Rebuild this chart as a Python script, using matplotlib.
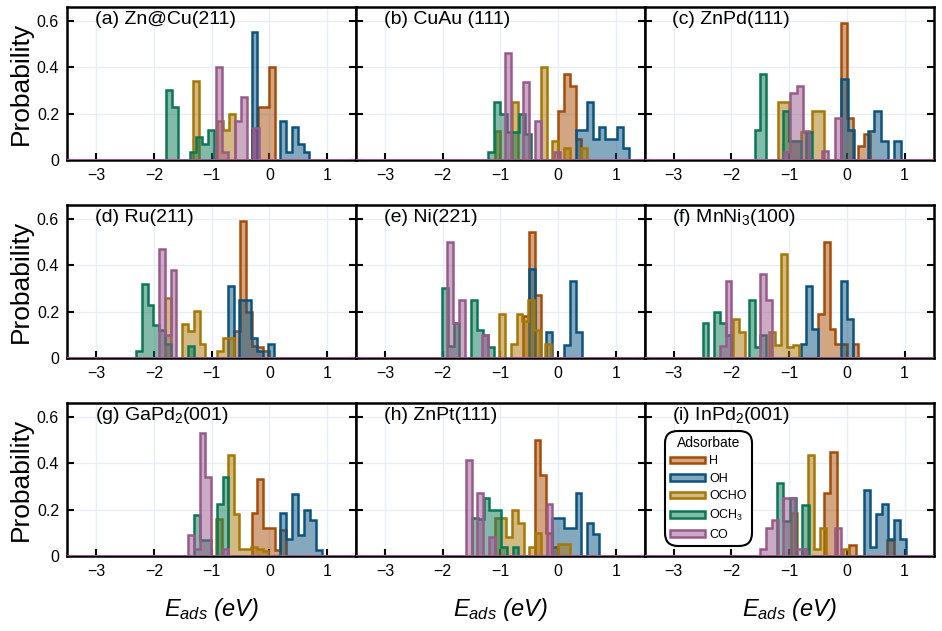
import numpy as np
import matplotlib
matplotlib.use("Agg")
import matplotlib.pyplot as plt
from matplotlib.colors import to_rgba

plt.rcParams['font.family'] = ['Liberation Sans', 'DejaVu Sans']
plt.rcParams['mathtext.fontset'] = 'custom'
plt.rcParams['mathtext.rm'] = 'Liberation Sans'
plt.rcParams['mathtext.it'] = 'Liberation Sans:italic'

adsorbates = ["H", "OH", "OCHO", "OCH$_3$", "CO"]
colors = ["#a64c08", "#0b527f", "#a77706", "#0a7755", "#99598b"]

# each histogram: [first bin edge (eV), bin width (eV), probabilities]
# (a) Zn@Cu(211)
a_H = [-0.30, 0.10, [0.13, 0.23, 0.23, 0.40]]
a_OH = [-0.31, 0.10, [0.55, 0, 0, 0, 0, 0.17, 0.035, 0.14, 0.07, 0.035]]
a_OCHO = [-1.33, 0.105, [0.34, 0, 0, 0, 0.17, 0.13, 0.20]]
a_OCH3 = [-1.80, 0.105, [0.30, 0.23, 0, 0, 0.035, 0.10, 0.07, 0.13]]
a_CO = [-0.92, 0.105, [0.40, 0.036, 0, 0.17, 0.27, 0, 0.136]]
# (b) CuAu (111)
b_H = [0.0, 0.10, [0.21, 0.37, 0.32, 0.09]]
b_OH = [0.30, 0.102, [0.13, 0.13, 0.25, 0.09, 0.14, 0.09, 0.09, 0.14, 0.05]]
b_OCHO = [-1.10, 0.10, [0.125, 0, 0, 0.25, 0, 0, 0, 0, 0.40, 0, 0.083, 0, 0.05, 0, 0, 0.05]]
b_OCH3 = [-1.21, 0.105, [0.036, 0.25, 0.20, 0.12, 0.12, 0.20, 0.11]]
b_CO = [-0.92, 0.105, [0.46, 0, 0, 0.336, 0, 0.17, 0, 0, 0.036]]
# (c) ZnPd(111)
c_H = [-0.10, 0.10, [0.59, 0.18, 0, 0.06, 0.11]]
c_OH = [-0.10, 0.115, [0.35, 0.13, 0, 0, 0.126, 0.21, 0.083, 0, 0.083]]
c_OCHO = [-1.20, 0.20, [0.25, 0.08, 0.12, 0.21]]
c_OCH3 = [-1.60, 0.10, [0.13, 0.37, 0, 0, 0, 0.21, 0.08, 0.08, 0, 0.12]]
c_CO = [-1.09, 0.11, [0.036, 0.29, 0.32, 0.126, 0, 0, 0.04, 0, 0.18]]
# (d) Ru(211)
d_H = [-0.61, 0.10, [0.116, 0.59, 0.20, 0.05, 0.047, 0.03]]
d_OH = [-0.72, 0.10, [0.31, 0, 0.25, 0.25, 0.086, 0.03, 0, 0.06]]
d_OCHO = [-1.81, 0.10, [0.26, 0, 0, 0.147, 0.116, 0.204, 0.06, 0, 0, 0.03, 0.086, 0.086]]
d_OCH3 = [-2.31, 0.10, [0.03, 0.32, 0.23, 0.14, 0.12, 0.06, 0, 0, 0, 0.05]]
d_CO = [-1.91, 0.10, [0.47, 0.10, 0.38]]
# (e) Ni(221)
e_H = [-0.61, 0.107, [0.18, 0.545, 0.27]]
e_OH = [-0.51, 0.102, [0.385, 0, 0, 0.11, 0, 0, 0.057, 0.33, 0.11]]
e_OCHO = [-1.02, 0.10, [0.19, 0, 0.06, 0.19, 0.16, 0.25, 0.12, 0, 0.06]]
e_OCH3 = [-2.01, 0.10, [0.30, 0.05, 0.15, 0, 0, 0.25, 0.12, 0.10, 0.047]]
e_CO = [-1.92, 0.10, [0.50, 0.15, 0.25, 0, 0, 0, 0.10]]
# (f) MnNi3(100)
f_H = [-0.50, 0.10, [0.19, 0.50, 0.126, 0.06, 0.06, 0, 0.06]]
f_OH = [-0.80, 0.10, [0.06, 0.31, 0.126, 0, 0, 0, 0, 0.33, 0.166]]
f_OCHO = [-1.98, 0.105, [0.166, 0.11, 0, 0, 0, 0, 0.11, 0.057, 0.45, 0.047, 0.057]]
f_OCH3 = [-2.50, 0.10, [0.15, 0, 0.20, 0.15, 0.10, 0, 0, 0, 0.25, 0.047, 0.10]]
f_CO = [-2.20, 0.10, [0.05, 0.33, 0, 0, 0, 0, 0, 0.36, 0.25]]
# (g) GaPd2(001)
g_H = [-0.31, 0.10, [0.186, 0.33, 0.12, 0.12, 0.025, 0.11]]
g_OH = [0.19, 0.103, [0.186, 0.074, 0.265, 0.09, 0.20, 0.157, 0.024]]
g_OCHO = [-0.92, 0.10, [0.16, 0, 0.435, 0.18, 0.03, 0.03, 0.04, 0.03, 0.02]]
g_OCH3 = [-1.31, 0.10, [0.175, 0.07, 0.07, 0, 0.225, 0.34]]
g_CO = [-1.41, 0.10, [0.09, 0.03, 0.53, 0.34, 0, 0, 0.03]]
# (h) ZnPt(111)
h_H = [-0.41, 0.10, [0.50, 0.35, 0.10, 0.04]]
h_OH = [-0.10, 0.10, [0.163, 0.163, 0.12, 0.12, 0.27, 0, 0.14, 0.096]]
h_OCHO = [-1.10, 0.10, [0.163, 0.163, 0.08, 0.196, 0.14, 0, 0.04, 0.10, 0, 0, 0, 0.05, 0.05]]
h_OCH3 = [-1.49, 0.10, [0.163, 0.16, 0.25, 0.20, 0.20, 0.04, 0, 0.04]]
h_CO = [-1.60, 0.10, [0.415, 0, 0.27, 0, 0.08, 0, 0, 0, 0, 0, 0, 0, 0, 0, 0.225]]
# (i) InPd2(001)
i_H = [-0.40, 0.11, [0.27, 0.45, 0, 0, 0.045, 0, 0, 0, 0, 0, 0.07]]
i_OH = [0.30, 0.103, [0.285, 0.04, 0.18, 0.225, 0.074, 0.153, 0.074]]
i_OCHO = [-0.97, 0.10, [0.186, 0, 0.03, 0.435, 0.03, 0.12, 0, 0, 0, 0.03]]
i_OCH3 = [-1.21, 0.11, [0.315, 0.15, 0.25, 0, 0.22]]
i_CO = [-1.50, 0.10, [0.03, 0.12, 0.153, 0, 0.25, 0.25, 0.03, 0.03, 0, 0, 0, 0, 0, 0.12]]

titles = ["(a) Zn@Cu(211)", "(b) CuAu (111)", "(c) ZnPd(111)",
          "(d) Ru(211)", "(e) Ni(221)", "(f) MnNi$_3$(100)",
          "(g) GaPd$_2$(001)", "(h) ZnPt(111)", "(i) InPd$_2$(001)"]
panels = [[a_H, a_OH, a_OCHO, a_OCH3, a_CO],
          [b_H, b_OH, b_OCHO, b_OCH3, b_CO],
          [c_H, c_OH, c_OCHO, c_OCH3, c_CO],
          [d_H, d_OH, d_OCHO, d_OCH3, d_CO],
          [e_H, e_OH, e_OCHO, e_OCH3, e_CO],
          [f_H, f_OH, f_OCHO, f_OCH3, f_CO],
          [g_H, g_OH, g_OCHO, g_OCH3, g_CO],
          [h_H, h_OH, h_OCHO, h_OCH3, h_CO],
          [i_H, i_OH, i_OCHO, i_OCH3, i_CO]]

fig, axes = plt.subplots(3, 3, figsize=(9.42, 6.31), dpi=100, sharey=True)
fig.subplots_adjust(left=0.0715, right=0.991, top=0.989, bottom=0.119,
                    wspace=0, hspace=0.294)

for k, ax in enumerate(axes.flat):
    for (start, width, probs), name, c in zip(panels[k], adsorbates, colors):
        edges = start + width * np.arange(len(probs) + 1)
        ax.stairs(probs, edges, fill=True, facecolor=to_rgba(c, 0.5),
                  edgecolor=c, linewidth=1.8, label=name, zorder=3)
    ax.axhline(0, color=colors[-1], lw=2.2, zorder=4)
    ax.set_xlim(-3.5, 1.5)
    ax.set_ylim(0, 0.66)
    ax.set_xticks([-3, -2, -1, 0, 1])
    ax.set_yticks([0, 0.2, 0.4, 0.6])
    ax.set_yticklabels(["0", "0.2", "0.4", "0.6"])
    ax.grid(True, color="#e8eef6", lw=1.0, zorder=0)
    ax.set_axisbelow(True)
    ax.tick_params(direction="in", length=5, width=1.5, labelsize=11.5,
                   right=True, top=False, pad=6)
    for s in ax.spines.values():
        s.set_linewidth(1.8)
    ax.text(0.095, 0.915, titles[k], transform=ax.transAxes, fontsize=14,
            va="center", ha="left")
    if k % 3 == 0:
        ax.set_ylabel("Probability", fontsize=19, labelpad=3)
    if k >= 6:
        ax.set_xlabel("$E_{ads}$ (eV)", fontsize=17, fontstyle="italic",
                      labelpad=12)

leg = axes[2, 2].legend(title="Adsorbate", loc="lower left",
                        bbox_to_anchor=(0.05, 0.025), fontsize=9,
                        title_fontsize=10, handlelength=2.8, handleheight=0.4,
                        handletextpad=0.3, labelspacing=0.45,
                        borderpad=0.4, frameon=True, fancybox=True)
leg.get_frame().set_edgecolor("black")
leg.get_frame().set_linewidth(1.5)
leg.get_frame().set_alpha(1)
leg.get_frame().set_boxstyle("round,pad=0,rounding_size=1.0")

fig.savefig("out.png", dpi=100)
